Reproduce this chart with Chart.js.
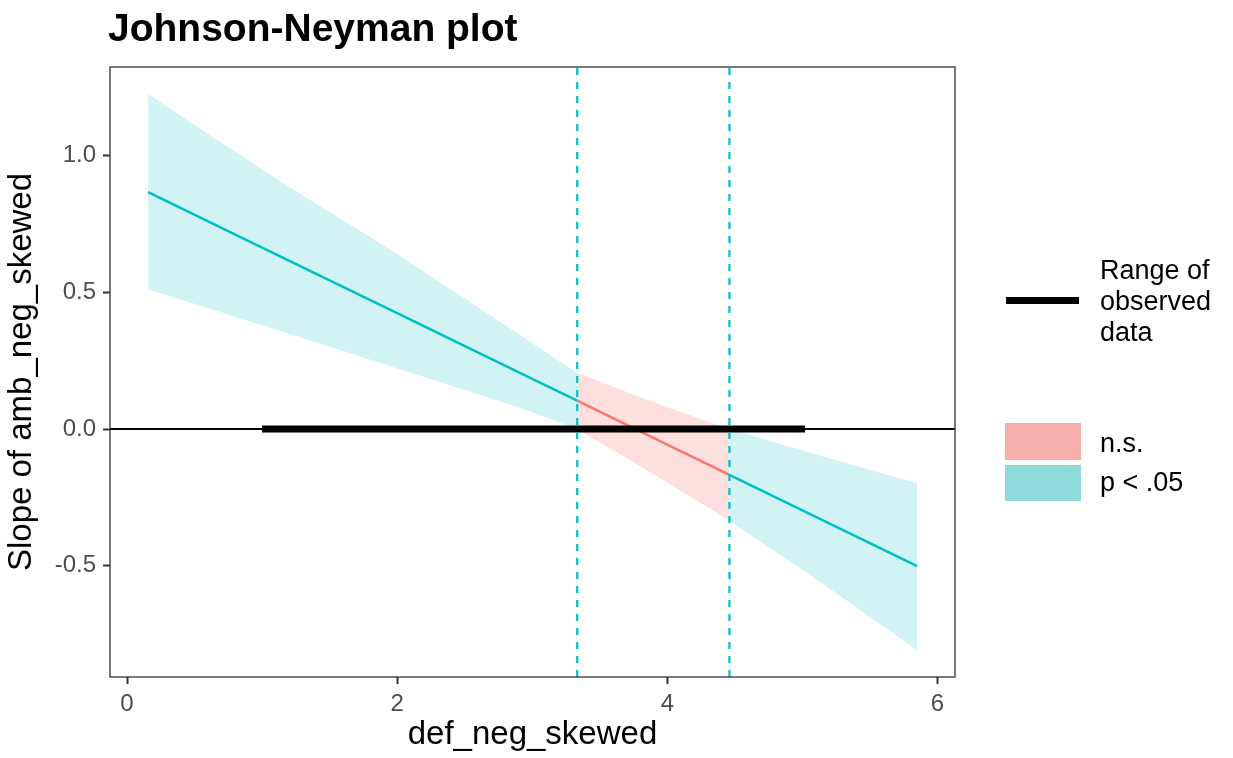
<!DOCTYPE html>
<html>
<head>
<meta charset="utf-8">
<script src="https://cdn.jsdelivr.net/npm/chart.js@4.4.1/dist/chart.umd.min.js"></script>
<style>
  body { margin: 0; background: #fff; font-family: "Liberation Sans", Arial, sans-serif; }
  #wrap { position: relative; width: 1233px; height: 758px; }
  #title { position: absolute; left: 108px; top: 8px; font-size: 39px; line-height: 39px; font-weight: bold; color: #000; white-space: nowrap; }
  .lg { position: absolute; font-size: 27px; line-height: 31px; color: #000; white-space: nowrap; }
  .key { position: absolute; }
</style>
</head>
<body>
<div id="wrap">
  <canvas id="jn-chart" width="1233" height="758"></canvas>
  <div id="title">Johnson-Neyman plot</div>
  <div class="key" style="left:1006px; top:297px; width:73px; height:7px; background:#000;"></div>
  <div class="lg" style="left:1100px; top:255px;">Range of<br>observed<br>data</div>
  <div class="key" style="left:1005px; top:423px; width:76px; height:37px; background:#F8AFAB;"></div>
  <div class="key" style="left:1005px; top:465px; width:76px; height:36px; background:#8EDADC;"></div>
  <div class="lg" style="left:1100px; top:428px;">n.s.</div>
  <div class="lg" style="left:1100px; top:467px;">p &lt; .05</div>
</div>
<script>
// values
const xGrid = [0.156, 1, 2, 3, 3.333, 4, 4.46, 5, 5.85];
const slopeEst = [0.867, 0.664, 0.424, 0.184, 0.104, -0.057, -0.167, -0.297, -0.501];
const ciUpper = [1.226, 0.950, 0.640, 0.315, 0.205, 0.080, 0.000, -0.078, -0.198];
const ciLower = [0.512, 0.380, 0.222, 0.062, 0.000, -0.195, -0.334, -0.515, -0.809];
const jnBounds = [3.333, 4.46];
const observedRange = [1.0, 5.02];
const xTicks = [0, 2, 4, 6];
const yTicks = [-0.5, 0, 0.5, 1.0];
const xLimits = [-0.126, 6.13];
const yLimits = [-0.907, 1.325];

const TEAL = '#00BFC4';
const RED = '#F8766D';

// pick points of a series inside [lo, hi]
function seg(vals, lo, hi) {
  const out = [];
  xGrid.forEach((x, i) => {
    if (x >= lo && x <= hi) out.push({ x: x, y: vals[i] });
  });
  return out;
}

const regions = [
  { lo: xGrid[0], hi: jnBounds[0], sig: true },
  { lo: jnBounds[0], hi: jnBounds[1], sig: false },
  { lo: jnBounds[1], hi: xGrid[xGrid.length - 1], sig: true },
];

const datasets = [];

// observed data range (on top)
datasets.push({
  data: observedRange.map((x) => ({ x: x, y: 0 })),
  borderColor: '#000',
  borderWidth: 7,
  borderCapStyle: 'butt',
  pointRadius: 0,
  fill: false,
  order: 0,
});

// zero line
datasets.push({
  data: xLimits.map((x) => ({ x: x, y: 0 })),
  borderColor: '#000',
  borderWidth: 2,
  pointRadius: 0,
  fill: false,
  order: 1,
});

regions.forEach((r) => {
  const col = r.sig ? TEAL : RED;
  datasets.push({
    data: seg(slopeEst, r.lo, r.hi),
    borderColor: col,
    borderWidth: 2.5,
    pointRadius: 0,
    fill: false,
    order: 2,
  });
});

regions.forEach((r) => {
  const bg = r.sig ? 'rgba(0,191,196,0.18)' : 'rgba(248,118,109,0.23)';
  datasets.push({
    data: seg(ciUpper, r.lo, r.hi),
    borderWidth: 0,
    borderColor: 'rgba(0,0,0,0)',
    backgroundColor: bg,
    pointRadius: 0,
    cubicInterpolationMode: 'monotone',
    fill: '+1',
    order: 3,
  });
  datasets.push({
    data: seg(ciLower, r.lo, r.hi),
    borderWidth: 0,
    borderColor: 'rgba(0,0,0,0)',
    pointRadius: 0,
    cubicInterpolationMode: 'monotone',
    fill: false,
    order: 3,
  });
});

const panelPlugin = {
  id: 'panel',
  afterDatasetsDraw(chart) {
    const { ctx, chartArea: a, scales } = chart;
    ctx.save();
    // Johnson-Neyman bounds
    ctx.strokeStyle = TEAL;
    ctx.lineWidth = 2.2;
    ctx.setLineDash([7, 7]);
    jnBounds.forEach((b) => {
      const px = scales.x.getPixelForValue(b);
      ctx.beginPath();
      ctx.moveTo(px, a.bottom);
      ctx.lineTo(px, a.top);
      ctx.stroke();
    });
    ctx.setLineDash([]);
    // panel border
    ctx.strokeStyle = '#333';
    ctx.lineWidth = 1.3;
    ctx.strokeRect(a.left, a.top, a.right - a.left, a.bottom - a.top);
    ctx.restore();
  },
};

const tickFont = { family: '"Liberation Sans", Arial, sans-serif', size: 24 };
const titleFont = { family: '"Liberation Sans", Arial, sans-serif', size: 33 };

new Chart(document.getElementById('jn-chart'), {
  type: 'line',
  data: { datasets: datasets },
  options: {
    responsive: false,
    animation: false,
    layout: { padding: { top: 67, right: 278, left: 0, bottom: 0 } },
    plugins: { legend: { display: false }, tooltip: { enabled: false } },
    scales: {
      x: {
        type: 'linear',
        min: xLimits[0],
        max: xLimits[1],
        afterBuildTicks: (s) => { s.ticks = xTicks.map((v) => ({ value: v })); },
        afterFit: (s) => { s.height = 81; },
        ticks: { font: tickFont, color: '#4D4D4D', padding: 6, maxRotation: 0,
          callback: (v) => String(v) },
        grid: { drawOnChartArea: false, drawTicks: true, tickLength: 7, tickWidth: 2, color: '#333' },
        border: { display: false },
        title: { display: true, text: 'def_neg_skewed', font: titleFont, color: '#000',
          padding: { top: 0, bottom: 3 } },
      },
      y: {
        type: 'linear',
        min: yLimits[0],
        max: yLimits[1],
        afterBuildTicks: (s) => { s.ticks = yTicks.map((v) => ({ value: v })); },
        afterFit: (s) => { s.width = 110; },
        ticks: { font: tickFont, color: '#4D4D4D', padding: 7,
          callback: (v) => v.toFixed(1) },
        grid: { drawOnChartArea: false, drawTicks: true, tickLength: 7, tickWidth: 2, color: '#333' },
        border: { display: false },
        title: { display: true, text: 'Slope of amb_neg_skewed', font: titleFont, color: '#000',
          padding: { top: 2, bottom: 0 } },
      },
    },
  },
  plugins: [panelPlugin],
});
</script>
</body>
</html>
